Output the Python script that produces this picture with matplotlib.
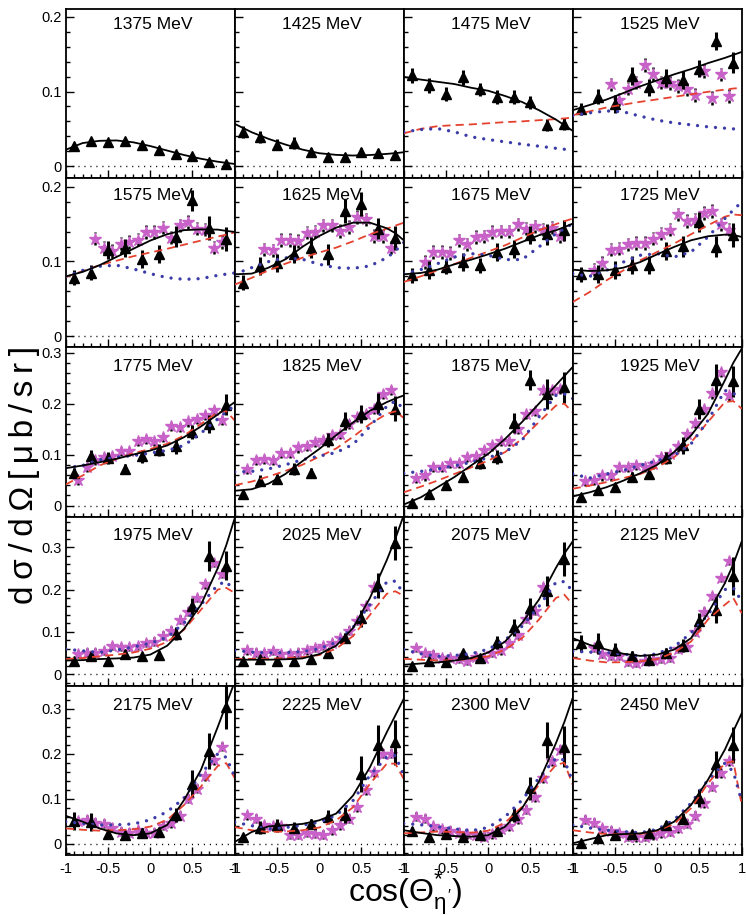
import numpy as np
import matplotlib
matplotlib.use('Agg')
import matplotlib.pyplot as plt
from matplotlib.ticker import MultipleLocator, FuncFormatter

plt.rcParams['font.family'] = ['Liberation Sans', 'DejaVu Sans']
plt.rcParams['mathtext.fontset'] = 'custom'
plt.rcParams['mathtext.rm'] = 'Liberation Sans'
plt.rcParams['mathtext.it'] = 'Liberation Sans'

energies = [1375, 1425, 1475, 1525, 1575, 1625, 1675, 1725, 1775, 1825,
            1875, 1925, 1975, 2025, 2075, 2125, 2175, 2225, 2300, 2450]

# data points (triangles) at fixed cos bins
tri_x = [-0.9, -0.7, -0.5, -0.3, -0.1, 0.1, 0.3, 0.5, 0.7, 0.9]
tri_y = [
    [0.027, 0.034, 0.033, 0.0335, 0.029, 0.0223, 0.017, 0.0134, 0.0063, 0.0036],
    [0.0455, 0.0388, 0.029, 0.0308, 0.0188, 0.013, 0.013, 0.0188, 0.0174, 0.0156],
    [0.1219, 0.1085, 0.0964, 0.1188, 0.1027, 0.0929, 0.0929, 0.0853, 0.0549, 0.0563],
    [0.0772, 0.0929, 0.0839, 0.1205, 0.1054, 0.1183, 0.1152, 0.1308, 0.1679, 0.1384],
    [0.0783, 0.0846, 0.115, 0.1186, 0.1038, 0.1105, 0.1329, 0.1821, 0.1454, 0.1306],
    [0.0716, 0.094, 0.0984, 0.1096, 0.1186, 0.1096, 0.1678, 0.1767, 0.1441, 0.1311],
    [0.0814, 0.089, 0.0926, 0.0993, 0.0949, 0.1128, 0.1172, 0.1351, 0.1365, 0.1418],
    [0.0828, 0.0837, 0.089, 0.0949, 0.0949, 0.1141, 0.1204, 0.153, 0.1195, 0.1351],
    [0.0635, 0.0963, 0.0937, 0.072, 0.0963, 0.109, 0.116, 0.144, 0.160, 0.198],
    [0.023, 0.049, 0.052, 0.071, 0.064, 0.128, 0.166, 0.180, 0.200, 0.190],
    [0.0046, 0.023, 0.041, 0.056, 0.083, 0.096, 0.162, 0.246, 0.219, 0.232],
    [0.016, 0.031, 0.037, 0.056, 0.062, 0.094, 0.118, 0.19, 0.247, 0.244],
    [0.030, 0.042, 0.0316, 0.048, 0.042, 0.046, 0.0955, 0.160, 0.280, 0.2565],
    [0.032, 0.035, 0.030, 0.030, 0.035, 0.051, 0.085, 0.132, 0.209, 0.311],
    [0.018, 0.030, 0.0276, 0.0497, 0.038, 0.075, 0.111, 0.156, 0.196, 0.272],
    [0.073, 0.073, 0.058, 0.043, 0.034, 0.0497, 0.067, 0.125, 0.152, 0.231],
    [0.051, 0.049, 0.0215, 0.019, 0.0245, 0.0267, 0.064, 0.133, 0.207, 0.304],
    [0.015, 0.0356, 0.041, 0.0356, 0.044, 0.059, 0.063, 0.154, 0.219, 0.226],
    [0.029, 0.0156, 0.021, 0.0156, 0.019, 0.029, 0.064, 0.123, 0.231, 0.216],
    [0.001, 0.012, 0.019, 0.0215, 0.023, 0.0416, 0.056, 0.101, 0.177, 0.22],
]
tri_err = [
    [0.003, 0.003, 0.003, 0.003, 0.003, 0.003, 0.003, 0.003, 0.003, 0.003],
    [0.008, 0.008, 0.007, 0.008, 0.006, 0.005, 0.005, 0.005, 0.005, 0.005],
    [0.010, 0.010, 0.009, 0.010, 0.009, 0.009, 0.009, 0.009, 0.008, 0.008],
    [0.008, 0.010, 0.012, 0.012, 0.012, 0.012, 0.012, 0.012, 0.012, 0.014],
    [0.010, 0.010, 0.012, 0.012, 0.012, 0.012, 0.014, 0.014, 0.016, 0.016],
    [0.010, 0.012, 0.012, 0.012, 0.014, 0.014, 0.016, 0.016, 0.014, 0.016],
    [0.010, 0.012, 0.010, 0.012, 0.010, 0.012, 0.012, 0.012, 0.014, 0.014],
    [0.010, 0.012, 0.012, 0.012, 0.012, 0.012, 0.014, 0.014, 0.014, 0.016],
    [0.010, 0.012, 0.012, 0.010, 0.012, 0.012, 0.014, 0.014, 0.018, 0.020],
    [0.006, 0.010, 0.010, 0.012, 0.010, 0.014, 0.018, 0.018, 0.020, 0.025],
    [0.004, 0.006, 0.008, 0.010, 0.012, 0.014, 0.020, 0.020, 0.030, 0.030],
    [0.004, 0.006, 0.006, 0.010, 0.010, 0.012, 0.016, 0.020, 0.030, 0.030],
    [0.008, 0.010, 0.008, 0.010, 0.008, 0.008, 0.015, 0.020, 0.035, 0.035],
    [0.006, 0.008, 0.006, 0.006, 0.006, 0.008, 0.012, 0.020, 0.030, 0.040],
    [0.006, 0.006, 0.006, 0.008, 0.008, 0.015, 0.020, 0.025, 0.035, 0.040],
    [0.020, 0.025, 0.015, 0.012, 0.008, 0.012, 0.015, 0.020, 0.030, 0.045],
    [0.020, 0.020, 0.008, 0.008, 0.010, 0.010, 0.015, 0.030, 0.040, 0.050],
    [0.006, 0.015, 0.015, 0.012, 0.012, 0.015, 0.018, 0.040, 0.045, 0.050],
    [0.008, 0.006, 0.006, 0.006, 0.006, 0.008, 0.015, 0.025, 0.040, 0.045],
    [0.004, 0.005, 0.005, 0.006, 0.006, 0.008, 0.012, 0.020, 0.030, 0.040],
]

# second data set (stars), first bin centre and values in 0.1 steps
star_x0 = [None, None, None, -0.55, -0.65, -0.65, -0.75, -0.75, -0.85, -0.85,
           -0.85, -0.85, -0.85, -0.85, -0.85, -0.75, -0.85, -0.85, -0.85, -0.85]
star_y = [
    [], [], [],
    [0.1094, 0.0893, 0.104, 0.112, 0.1353, 0.1232, 0.112, 0.1116, 0.1076, 0.1027, 0.0951, 0.1277, 0.0915, 0.1228, 0.0938],
    [0.1306, 0.1186, 0.1141, 0.124, 0.126, 0.1293, 0.1396, 0.1396, 0.1454, 0.132, 0.1485, 0.153, 0.144, 0.1427, 0.1186, 0.126],
    [0.1163, 0.115, 0.1289, 0.1289, 0.1275, 0.1387, 0.14, 0.1485, 0.1485, 0.141, 0.1463, 0.1597, 0.1566, 0.1342, 0.1342, 0.1186],
    [0.0993, 0.1128, 0.1128, 0.1114, 0.1284, 0.123, 0.1329, 0.1338, 0.1396, 0.1405, 0.1405, 0.1499, 0.1441, 0.1472, 0.1427, 0.1454, 0.1338],
    [0.089, 0.098, 0.1159, 0.1172, 0.123, 0.1248, 0.1248, 0.1306, 0.1374, 0.1427, 0.1633, 0.1544, 0.1562, 0.1651, 0.1678, 0.1499, 0.1427],
    [0.05, 0.075, 0.09, 0.095, 0.098, 0.108, 0.108, 0.127, 0.13, 0.127, 0.135, 0.157, 0.154, 0.165, 0.17, 0.178, 0.188, 0.168],
    [0.072, 0.09, 0.092, 0.09, 0.103, 0.103, 0.114, 0.117, 0.124, 0.128, 0.138, 0.141, 0.16, 0.173, 0.18, 0.19, 0.219, 0.227],
    [0.054, 0.059, 0.075, 0.075, 0.083, 0.083, 0.096, 0.098, 0.109, 0.118, 0.127, 0.127, 0.15, 0.18, 0.186, 0.226, 0.227, 0.229],
    [0.048, 0.05, 0.059, 0.059, 0.076, 0.075, 0.08, 0.076, 0.082, 0.095, 0.102, 0.116, 0.141, 0.162, 0.19, 0.22, 0.262, 0.216],
    [0.048, 0.051, 0.051, 0.054, 0.067, 0.064, 0.064, 0.066, 0.073, 0.077, 0.091, 0.103, 0.129, 0.148, 0.18, 0.212, 0.263, 0.237],
    [0.056, 0.051, 0.049, 0.054, 0.047, 0.048, 0.051, 0.056, 0.062, 0.067, 0.073, 0.086, 0.103, 0.125, 0.16, 0.205],
    [0.062, 0.05, 0.046, 0.038, 0.038, 0.036, 0.032, 0.04, 0.038, 0.05, 0.056, 0.074, 0.093, 0.13, 0.15, 0.205],
    [0.062, 0.048, 0.043, 0.043, 0.028, 0.026, 0.032, 0.034, 0.036, 0.038, 0.059, 0.065, 0.1, 0.148, 0.185, 0.227, 0.267],
    [0.05, 0.053, 0.047, 0.044, 0.036, 0.027, 0.024, 0.03, 0.023, 0.0245, 0.04, 0.045, 0.062, 0.1, 0.122, 0.15, 0.185, 0.215],
    [0.063, 0.056, 0.041, 0.039, 0.039, 0.02, 0.02, 0.024, 0.022, 0.02, 0.03, 0.041, 0.056, 0.081, 0.119, 0.159, 0.2, 0.2],
    [0.06, 0.056, 0.039, 0.032, 0.029, 0.024, 0.0215, 0.019, 0.0156, 0.0215, 0.032, 0.039, 0.054, 0.075, 0.103, 0.145, 0.183, 0.209],
    [0.053, 0.047, 0.034, 0.029, 0.023, 0.0156, 0.014, 0.0156, 0.019, 0.023, 0.027, 0.034, 0.044, 0.062, 0.09, 0.127, 0.157, 0.183],
]
star_err = [0, 0, 0, 0.009, 0.009, 0.009, 0.009, 0.009, 0.010, 0.010,
            0.010, 0.010, 0.010, 0.010, 0.010, 0.010, 0.010, 0.010, 0.010, 0.010]

# model curves
curve_x = [-1, -0.8, -0.6, -0.4, -0.2, 0, 0.2, 0.4, 0.6, 0.8, 0.9, 1.0]
fit_black = [
    [0.022, 0.031, 0.034, 0.0345, 0.032, 0.027, 0.021, 0.015, 0.010, 0.006, 0.0045, 0.003],
    [0.0567, 0.0455, 0.0366, 0.029, 0.0223, 0.0174, 0.0152, 0.0143, 0.015, 0.0165, 0.0175, 0.0187],
    [0.1196, 0.116, 0.113, 0.11, 0.105, 0.101, 0.094, 0.086, 0.075, 0.0625, 0.055, 0.0473],
    [0.075, 0.082, 0.0893, 0.098, 0.107, 0.115, 0.123, 0.130, 0.138, 0.145, 0.149, 0.153],
    [0.080, 0.086, 0.095, 0.106, 0.117, 0.128, 0.1365, 0.142, 0.143, 0.1427, 0.141, 0.1396],
    [0.0828, 0.0837, 0.0917, 0.1029, 0.1195, 0.1342, 0.1454, 0.152, 0.152, 0.1445, 0.138, 0.1284],
    [0.0828, 0.0846, 0.089, 0.0962, 0.1025, 0.1096, 0.1172, 0.1262, 0.1351, 0.1418, 0.146, 0.1508],
    [0.089, 0.0872, 0.0881, 0.0917, 0.0993, 0.1096, 0.1195, 0.1284, 0.1338, 0.136, 0.1355, 0.1329],
    [0.0733, 0.0786, 0.0851, 0.0917, 0.1002, 0.108, 0.1179, 0.1342, 0.1552, 0.1788, 0.191, 0.203],
    [0.029, 0.032, 0.043, 0.062, 0.087, 0.111, 0.138, 0.163, 0.186, 0.203, 0.210, 0.216],
    [0.002, 0.016, 0.036, 0.056, 0.079, 0.1015, 0.131, 0.164, 0.2, 0.236, 0.254, 0.272],
    [0.018, 0.026, 0.036, 0.049, 0.0635, 0.08, 0.105, 0.1375, 0.18, 0.2456, 0.28, 0.308],
    [0.032, 0.033, 0.0355, 0.037, 0.039, 0.046, 0.067, 0.107, 0.164, 0.251, 0.305, 0.369],
    [0.034, 0.034, 0.034, 0.035, 0.037, 0.047, 0.067, 0.109, 0.18, 0.27, 0.32, 0.376],
    [0.022, 0.025, 0.0276, 0.032, 0.038, 0.051, 0.077, 0.121, 0.176, 0.251, 0.285, 0.314],
    [0.085, 0.069, 0.058, 0.048, 0.043, 0.046, 0.058, 0.085, 0.144, 0.215, 0.26, 0.314],
    [0.062, 0.049, 0.034, 0.023, 0.019, 0.023, 0.0416, 0.097, 0.164, 0.26, 0.31, 0.36],
    [0.004, 0.026, 0.0385, 0.041, 0.044, 0.052, 0.067, 0.107, 0.17, 0.248, 0.285, 0.322],
    [0.03, 0.024, 0.019, 0.017, 0.0156, 0.019, 0.038, 0.079, 0.138, 0.223, 0.27, 0.324],
    [0.001, 0.01, 0.019, 0.0215, 0.023, 0.03, 0.049, 0.086, 0.142, 0.209, 0.25, 0.29],
]
fit_red = [
    [], [],
    [0.044, 0.050, 0.0536, 0.055, 0.056, 0.0575, 0.059, 0.060, 0.0616, 0.063, 0.064, 0.065],
    [0.0683, 0.0735, 0.0786, 0.0825, 0.0862, 0.0895, 0.0929, 0.0963, 0.0996, 0.1025, 0.104, 0.105],
    [0.079, 0.087, 0.095, 0.101, 0.107, 0.112, 0.117, 0.1225, 0.128, 0.1335, 0.136, 0.139],
    [0.069, 0.078, 0.088, 0.097, 0.105, 0.112, 0.1186, 0.127, 0.1365, 0.144, 0.148, 0.152],
    [0.0725, 0.080, 0.0881, 0.0966, 0.1051, 0.1134, 0.1217, 0.132, 0.1418, 0.150, 0.154, 0.1575],
    [0.0456, 0.059, 0.0747, 0.0881, 0.1016, 0.1128, 0.1239, 0.1365, 0.1485, 0.160, 0.163, 0.162],
    [0.0413, 0.059, 0.0786, 0.0917, 0.1028, 0.111, 0.121, 0.1375, 0.16, 0.183, 0.185, 0.167],
    [0.04, 0.047, 0.057, 0.068, 0.08, 0.096, 0.112, 0.135, 0.16, 0.18, 0.185, 0.172],
    [0.026, 0.037, 0.049, 0.062, 0.075, 0.088, 0.105, 0.131, 0.164, 0.196, 0.200, 0.183],
    [0.033, 0.039, 0.046, 0.054, 0.062, 0.075, 0.095, 0.124, 0.164, 0.203, 0.205, 0.19],
    [0.0355, 0.038, 0.042, 0.046, 0.051, 0.06, 0.076, 0.105, 0.152, 0.2, 0.204, 0.192],
    [0.036, 0.036, 0.036, 0.038, 0.04, 0.045, 0.06, 0.09, 0.14, 0.19, 0.196, 0.185],
    [0.036, 0.034, 0.032, 0.033, 0.0355, 0.042, 0.058, 0.085, 0.129, 0.18, 0.188, 0.164],
    [0.038, 0.032, 0.0276, 0.028, 0.03, 0.0355, 0.051, 0.077, 0.129, 0.164, 0.18, 0.144],
    [0.034, 0.031, 0.029, 0.03, 0.032, 0.038, 0.053, 0.086, 0.127, 0.173, 0.179, 0.146],
    [0.037, 0.03, 0.026, 0.027, 0.03, 0.036, 0.052, 0.081, 0.133, 0.178, 0.178, 0.144],
    [0.023, 0.025, 0.027, 0.026, 0.0245, 0.029, 0.047, 0.082, 0.131, 0.175, 0.18, 0.131],
    [0.03, 0.025, 0.0215, 0.021, 0.0215, 0.029, 0.044, 0.079, 0.134, 0.179, 0.183, 0.086],
]
fit_blue = [
    [], [],
    [0.046, 0.049, 0.0504, 0.046, 0.0393, 0.0357, 0.0326, 0.0295, 0.0268, 0.024, 0.0227, 0.0214],
    [0.068, 0.0714, 0.074, 0.0728, 0.067, 0.0616, 0.058, 0.0554, 0.0527, 0.0509, 0.050, 0.0491],
    [0.080, 0.088, 0.0935, 0.095, 0.090, 0.0837, 0.0783, 0.076, 0.077, 0.0814, 0.083, 0.0846],
    [0.083, 0.0917, 0.0998, 0.105, 0.103, 0.0962, 0.0917, 0.0908, 0.094, 0.105, 0.114, 0.1253],
    [0.0837, 0.089, 0.0971, 0.106, 0.1105, 0.1083, 0.1025, 0.1025, 0.1195, 0.1374, 0.144, 0.1508],
    [0.0837, 0.080, 0.0881, 0.0993, 0.1083, 0.1105, 0.106, 0.1128, 0.1329, 0.1575, 0.169, 0.1799],
    [0.074, 0.0786, 0.0897, 0.095, 0.098, 0.103, 0.108, 0.118, 0.142, 0.170, 0.184, 0.196],
    [0.066, 0.067, 0.072, 0.08, 0.09, 0.097, 0.104, 0.12, 0.155, 0.195, 0.205, 0.19],
    [0.0635, 0.067, 0.072, 0.078, 0.085, 0.094, 0.105, 0.128, 0.174, 0.216, 0.219, 0.21],
    [0.062, 0.054, 0.062, 0.069, 0.079, 0.088, 0.098, 0.121, 0.167, 0.226, 0.22, 0.21],
    [0.059, 0.055, 0.051, 0.057, 0.064, 0.073, 0.087, 0.121, 0.164, 0.2115, 0.219, 0.196],
    [0.056, 0.052, 0.05, 0.051, 0.053, 0.06, 0.075, 0.11, 0.165, 0.218, 0.22, 0.19],
    [0.058, 0.048, 0.042, 0.044, 0.048, 0.059, 0.081, 0.113, 0.16, 0.217, 0.219, 0.196],
    [0.054, 0.052, 0.051, 0.047, 0.043, 0.048, 0.065, 0.097, 0.14, 0.2, 0.204, 0.172],
    [0.049, 0.045, 0.0416, 0.042, 0.044, 0.053, 0.071, 0.101, 0.155, 0.2, 0.192, 0.149],
    [0.048, 0.04, 0.033, 0.036, 0.041, 0.048, 0.063, 0.096, 0.152, 0.193, 0.196, 0.152],
    [0.045, 0.042, 0.038, 0.033, 0.029, 0.036, 0.06, 0.097, 0.146, 0.19, 0.186, 0.138],
    [0.042, 0.035, 0.03, 0.027, 0.0245, 0.032, 0.053, 0.09, 0.142, 0.179, 0.16, 0.094],
]

row_ylim = [(-0.016, 0.2105), (-0.0152, 0.2117), (-0.0216, 0.3104),
            (-0.0277, 0.3727), (-0.025, 0.351)]
title_drop = [16, 17, 19.5, 19, 20]  # px below panel top

fig = plt.figure(figsize=(7.46, 9.15), dpi=100)
gs = fig.add_gridspec(5, 4, left=0.0881, right=0.9943, top=0.9902,
                      bottom=0.0656, hspace=0, wspace=0)

for i, e in enumerate(energies):
    r, c = divmod(i, 4)
    ax = fig.add_subplot(gs[r, c])
    ax.set_xlim(-1, 1)
    ax.set_ylim(*row_ylim[r])

    ax.axhline(0, color='black', lw=1.0, ls=(0, (0.8, 3.5)))

    if star_y[i]:
        sy = np.array(star_y[i])
        sx = np.round(star_x0[i] + 0.1 * np.arange(len(sy)), 2)
        ax.vlines(sx, sy - star_err[i], sy + star_err[i], colors='black',
                  lw=1.8, linestyles=(0, (1.2, 1.2)), zorder=2)
        ax.plot(sx, sy, ls='none', marker='*', ms=9, color='#c862c8',
                mec='#c862c8', zorder=3)

    ax.errorbar(tri_x, tri_y[i], yerr=tri_err[i], fmt='^', color='black',
                ms=6.8, elinewidth=2.2, capsize=0, zorder=4)

    if fit_red[i]:
        ax.plot(curve_x, fit_red[i], color='#e5412f', lw=1.3,
                ls=(0, (4.5, 2.8)), zorder=5)
    if fit_blue[i]:
        ax.plot(curve_x, fit_blue[i], color='#3c3ca8', lw=2.4,
                ls=(0, (0.01, 2.7)), dash_capstyle='round', zorder=5)
    ax.plot(curve_x, fit_black[i], color='black', lw=1.3, zorder=6)

    ax.text(0.515, 1 - title_drop[r] / 169.0, f'{e} MeV', transform=ax.transAxes,
            ha='center', va='center', fontsize=12.6)

    ax.xaxis.set_major_locator(MultipleLocator(0.5))
    ax.xaxis.set_minor_locator(MultipleLocator(0.1))
    ax.yaxis.set_major_locator(MultipleLocator(0.1))
    ax.yaxis.set_minor_locator(MultipleLocator(0.02))
    ax.tick_params(which='both', direction='in', top=False, right=False,
                   width=1.0, labelsize=10.5)
    ax.tick_params(which='major', length=5.5)
    ax.tick_params(which='minor', length=3)
    ax.tick_params(axis='y', pad=3)
    ax.tick_params(axis='x', pad=5)
    for s in ax.spines.values():
        s.set_linewidth(1.3)

    ax.xaxis.set_major_formatter(FuncFormatter(lambda v, p: '0' if abs(v) < 1e-9 else f'{v:g}'))
    ax.yaxis.set_major_formatter(FuncFormatter(lambda v, p: '0' if abs(v) < 1e-9 else f'{v:.1f}'))
    if c != 0:
        ax.tick_params(labelleft=False)
    if r != 4:
        ax.tick_params(labelbottom=False)

fig.text(0.033, 0.481, 'd\u2009σ\u2009/\u2009d\u2009Ω\u2009[\u2009μ\u2009b\u2009/\u2009s\u2009r\u2009]',
         rotation=90, ha='center', va='center', fontsize=24)
fig.text(0.543, 0.024, r"cos($\Theta^{*}_{\eta'}$)", ha='center', va='center',
         fontsize=23)

fig.savefig('out.png', dpi=100)
